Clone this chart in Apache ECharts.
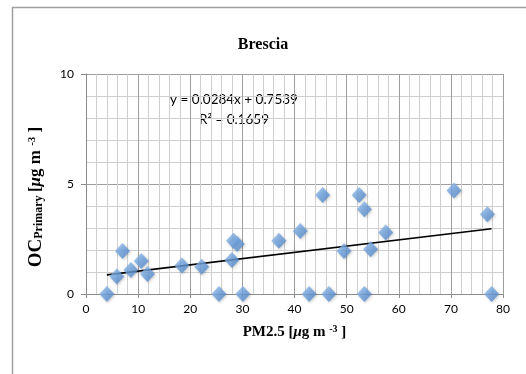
<!DOCTYPE html>
<html>
<head>
<meta charset="utf-8">
<script src="https://cdn.jsdelivr.net/npm/echarts@6/dist/echarts.min.js"></script>
<style>
  html, body { margin: 0; padding: 0; background: #fff; }
  #chart { width: 526px; height: 374px; }
</style>
</head>
<body>
<div id="chart"></div>
<script>
// PM2.5 vs primary organic carbon, Brescia site
const pm25 = [4.0, 5.9, 7.0, 8.6, 10.6, 11.8, 18.4, 22.2, 25.5, 28.3, 29.0, 28.0, 30.1,
              37.0, 41.1, 42.8, 45.4, 46.6, 49.5, 52.4, 53.4, 53.4, 54.6, 57.5, 70.6, 77.0, 77.8];
const ocPrimary = [0.0, 0.79, 1.95, 1.09, 1.5, 0.91, 1.29, 1.24, 0.0, 2.42, 2.27, 1.55, 0.0,
                   2.42, 2.86, 0.0, 4.5, 0.0, 1.95, 4.5, 3.85, 0.0, 2.03, 2.8, 4.7, 3.62, 0.0];

// Linear fit reported for the series
const slope = 0.0284;
const intercept = 0.7539;
const rSquared = 0.1659;

const xTicks = [0, 10, 20, 30, 40, 50, 60, 70, 80];
const yTicks = [0, 5, 10];

const points = pm25.map((x, i) => [x, ocPrimary[i]]);
const xMin = Math.min(...pm25), xMax = Math.max(...pm25);
const fitLine = [[xMin, slope * xMin + intercept], [xMax, slope * xMax + intercept]];

const chart = echarts.init(document.getElementById('chart'), null, { renderer: 'canvas' });

const labelFont = 'Lato, "Liberation Sans", sans-serif';
const serif = '"Liberation Serif", "DejaVu Serif", serif';

chart.setOption({
  animation: false,
  backgroundColor: '#ffffff',
  title: {
    text: 'Brescia',
    left: 'center',
    top: 32,
    textStyle: { fontFamily: serif, fontWeight: 'bold', fontSize: 16, color: '#000' }
  },
  grid: { left: 86, right: 23, top: 74, bottom: 80 },
  xAxis: {
    type: 'value',
    min: xTicks[0],
    max: xTicks[xTicks.length - 1],
    interval: 10,
    name: 'PM2.5 [{it|μ}g m {sup|-3} ]',
    nameLocation: 'middle',
    nameGap: 30,
    nameTextStyle: {
      fontFamily: serif, fontWeight: 'bold', fontSize: 15, color: '#000',
      rich: {
        it: { fontFamily: serif, fontWeight: 'bold', fontStyle: 'italic', fontSize: 15, color: '#000' },
        sup: { fontFamily: serif, fontWeight: 'bold', fontSize: 10, color: '#000', verticalAlign: 'top', padding: [0, 0, 6, 0] }
      }
    },
    axisLine: { show: true, onZero: false, lineStyle: { color: '#8c8c8c', width: 1 } },
    axisTick: { show: true, length: 4, inside: false, lineStyle: { color: '#8c8c8c' } },
    axisLabel: { fontFamily: labelFont, fontSize: 12, color: '#000', margin: 9 },
    splitLine: { show: true, lineStyle: { color: '#9e9e9e', width: 1 } },
    minorTick: { show: true, splitNumber: 5, length: 0 },
    minorSplitLine: { show: true, lineStyle: { color: '#cfcfcf', width: 1 } }
  },
  yAxis: {
    type: 'value',
    min: yTicks[0],
    max: yTicks[yTicks.length - 1],
    interval: 5,
    axisLine: { show: true, lineStyle: { color: '#8c8c8c', width: 1 } },
    axisTick: { show: true, length: 5, inside: false, lineStyle: { color: '#8c8c8c' } },
    axisLabel: { fontFamily: labelFont, fontSize: 12, color: '#000', margin: 12 },
    splitLine: { show: true, lineStyle: { color: '#9e9e9e', width: 1 } },
    minorTick: { show: true, splitNumber: 5, length: 0 },
    minorSplitLine: { show: true, lineStyle: { color: '#cfcfcf', width: 1 } }
  },
  graphic: [
    { type: 'line', shape: { x1: 12, y1: 7.5, x2: 526, y2: 7.5 }, style: { stroke: '#a0a0a0', lineWidth: 1.5 } },
    { type: 'line', shape: { x1: 12.5, y1: 7, x2: 12.5, y2: 374 }, style: { stroke: '#a0a0a0', lineWidth: 1.5 } },
    {
      // vertical axis title, rotated to read bottom-to-top
      type: 'text',
      x: 36, y: 197,
      rotation: Math.PI / 2,
      style: {
        text: '{oc|OC}{sub|Primary} {b|[}{it|μ}{b|g m }{sup|-3}{b| ]}',
        align: 'center', verticalAlign: 'middle',
        rich: {
          oc: { fontFamily: serif, fontWeight: 'bold', fontSize: 19, fill: '#000' },
          sub: { fontFamily: serif, fontWeight: 'bold', fontSize: 12, fill: '#000', padding: [6, 0, 0, 0] },
          it: { fontFamily: serif, fontWeight: 'bold', fontStyle: 'italic', fontSize: 17, fill: '#000' },
          b: { fontFamily: serif, fontWeight: 'bold', fontSize: 17, fill: '#000' },
          sup: { fontFamily: serif, fontWeight: 'bold', fontSize: 11, fill: '#000', padding: [0, 0, 8, 0] }
        }
      }
    },
    {
      type: 'text', x: 234, y: 100,
      style: {
        text: 'y = ' + slope.toFixed(4) + 'x + ' + intercept.toFixed(4),
        align: 'center', verticalAlign: 'middle',
        font: '13.5px ' + labelFont, fill: '#000'
      }
    },
    {
      type: 'text', x: 234, y: 120,
      style: {
        text: 'R² = ' + rSquared.toFixed(4),
        align: 'center', verticalAlign: 'middle',
        font: '13.5px ' + labelFont, fill: '#000'
      }
    }
  ],
  series: [
    {
      type: 'line',
      data: fitLine,
      symbol: 'none',
      lineStyle: { color: '#000', width: 1.6 },
      z: 3
    },
    {
      type: 'scatter',
      data: points,
      symbol: 'diamond',
      symbolSize: [15, 16],
      itemStyle: {
        color: new echarts.graphic.LinearGradient(0, 0, 1, 1, [
          { offset: 0, color: '#9cc2ee' },
          { offset: 0.5, color: '#6b9fdc' },
          { offset: 1, color: '#4a7fc2' }
        ]),
        shadowBlur: 3,
        shadowColor: 'rgba(0,0,0,0.25)',
        shadowOffsetX: 1,
        shadowOffsetY: 1
      },
      z: 4
    }
  ]
});
</script>
</body>
</html>
